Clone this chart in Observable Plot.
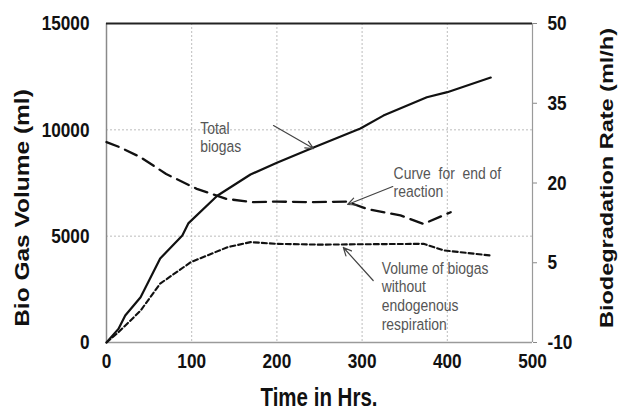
<!DOCTYPE html>
<html>
<head>
<meta charset="utf-8">
<script src="https://cdn.jsdelivr.net/npm/d3@7"></script>
<script src="https://cdn.jsdelivr.net/npm/@observablehq/plot@0.6"></script>
<style>
  body { margin: 0; background: #fff; }
</style>
</head>
<body>
<div id="chart"></div>
<script>
// Total biogas (ml)
const totalTime = [0, 14, 22, 40, 63, 89, 96, 130, 169, 200, 243, 298, 325, 376, 400, 451];
const totalVolume = [0, 640, 1270, 2130, 3950, 5030, 5600, 6900, 7900, 8450, 9170, 10060, 10670, 11530, 11770, 12460];
// Volume of biogas without endogenous respiration (ml)
const noEndoTime = [0, 14, 40, 63, 99, 142, 169, 200, 251, 300, 372, 396, 451];
const noEndoVolume = [0, 480, 1500, 2770, 3780, 4480, 4720, 4640, 4600, 4620, 4640, 4330, 4090];
// Curve for end of reaction: biodegradation rate (ml/h), right axis
const rateTime = [0, 16, 40, 70, 106, 141, 172, 200, 243, 282, 306, 345, 372, 404];
const rateValue = [27.7, 26.7, 24.85, 21.7, 18.9, 17.0, 16.4, 16.5, 16.4, 16.5, 15.1, 13.9, 12.3, 14.5];

const xTicks = [0, 100, 200, 300, 400, 500];
const leftTicks = [0, 5000, 10000, 15000];
const rightTicks = [-10, 5, 20, 35, 50];
const xGrid = [100, 200, 300, 400];
const yGrid = [5000, 10000];

const xTitle = "Time in Hrs.";
const leftTitle = "Bio Gas Volume (ml)";
const rightTitle = "Biodegradation Rate (ml/h)";

// annotations (data coordinates: time, volume)
const noteText = ["Total\nbiogas", "Curve\u00a0 for\u00a0 end of\nreaction", "Volume of biogas\nwithout\nendogenous\nrespiration"];
const noteX = [110, 337, 323];
const noteY = [10440, 8323, 3856];
const arrowX1 = [196, 336, 313];
const arrowY1 = [10200, 7335, 2915];
const arrowX2 = [243, 283, 278];
const arrowY2 = [9120, 6490, 4467];

const rateMin = -10, rateMax = 50, volMax = 15000;
const rateToVol = r => (r - rateMin) / (rateMax - rateMin) * volMax;
const volToRate = v => v / volMax * (rateMax - rateMin) + rateMin;

const total = totalTime.map((t, i) => ({t, v: totalVolume[i]}));
const noEndo = noEndoTime.map((t, i) => ({t, v: noEndoVolume[i]}));
const rate = rateTime.map((t, i) => ({t, v: rateToVol(rateValue[i])}));
const notes = noteText.map((s, i) => ({s, x: noteX[i], y: noteY[i]}));
const arrows = arrowX1.map((x1, i) => ({x1, y1: arrowY1[i], x2: arrowX2[i], y2: arrowY2[i]}));

const font = "'Liberation Sans', Arial, sans-serif";
const squeeze = 0.82; // condensed look of the original lettering

const chart = Plot.plot({
  width: 621,
  height: 410,
  marginLeft: 106,
  marginRight: 89,
  marginTop: 23,
  marginBottom: 68,
  style: {fontFamily: font, background: "#fff", color: "#111"},
  x: {domain: [0, 500]},
  y: {domain: [0, volMax]},
  marks: [
    Plot.ruleX(xGrid, {stroke: "#bdbdbd", strokeWidth: 1, strokeDasharray: "2,2"}),
    Plot.ruleY(yGrid, {stroke: "#bdbdbd", strokeWidth: 1, strokeDasharray: "2,2"}),
    Plot.ruleY([0], {stroke: "#9a9a9a", strokeWidth: 1.5}),
    Plot.ruleX([0], {stroke: "#8a8a8a", strokeWidth: 1.5}),
    Plot.ruleX([500], {stroke: "#9a9a9a", strokeWidth: 1.2}),
    Plot.ruleY([volMax], {stroke: "#222", strokeWidth: 1.8}),
    Plot.axisX({ticks: xTicks, tickSize: 0, tickPadding: 11, label: null, fontSize: 21, fontWeight: "bold", tickFormat: d => String(d)}),
    Plot.axisY({anchor: "left", ticks: leftTicks, tickSize: 0, tickPadding: 17, label: null, fontSize: 21, fontWeight: "bold", tickFormat: d => String(d)}),
    Plot.axisY(rightTicks.map(rateToVol), {anchor: "right", tickSize: 4, tickPadding: 11, stroke: "#888", label: null, fontSize: 21, fontWeight: "bold", tickFormat: v => String(Math.round(volToRate(v)))}),
    Plot.line(rate, {x: "t", y: "v", stroke: "#111", strokeWidth: 2.3, strokeDasharray: "13,7"}),
    Plot.line(noEndo, {x: "t", y: "v", stroke: "#111", strokeWidth: 2.1, strokeDasharray: "5,3"}),
    Plot.line(total, {x: "t", y: "v", stroke: "#111", strokeWidth: 2.2}),
    Plot.arrow(arrows, {x1: "x1", y1: "y1", x2: "x2", y2: "y2", stroke: "#444", strokeWidth: 1.2, headLength: 11, headAngle: 50}),
    Plot.text(notes, {x: "x", y: "y", text: "s", textAnchor: "start", lineAnchor: "top", fontSize: 17, lineHeight: 1.1, fill: "#555"})
  ]
});
document.getElementById("chart").appendChild(chart);

// condense every Plot text horizontally around its anchor
const svg = d3.select(chart);
svg.selectAll("text").each(function () {
  const el = d3.select(this);
  const tr = el.attr("transform");
  if (tr) el.attr("transform", `${tr} scale(${squeeze},1)`);
});

// axis titles
svg.append("text")
  .attr("transform", `translate(319,406) scale(${squeeze},1)`)
  .attr("text-anchor", "middle")
  .attr("font-family", font).attr("font-size", 25).attr("font-weight", "bold").attr("fill", "#111")
  .text(xTitle);
svg.append("text")
  .attr("transform", `translate(21.5,208) scale(${squeeze},1) rotate(-90)`)
  .attr("text-anchor", "middle").attr("dy", "0.36em")
  .attr("font-family", font).attr("font-size", 24.5).attr("font-weight", "bold").attr("fill", "#111")
  .text(leftTitle);
svg.append("text")
  .attr("transform", `translate(606.5,178) scale(${squeeze},1) rotate(-90)`)
  .attr("text-anchor", "middle").attr("dy", "0.36em")
  .attr("font-family", font).attr("font-size", 23.5).attr("font-weight", "bold").attr("fill", "#111")
  .text(rightTitle);
</script>
</body>
</html>
